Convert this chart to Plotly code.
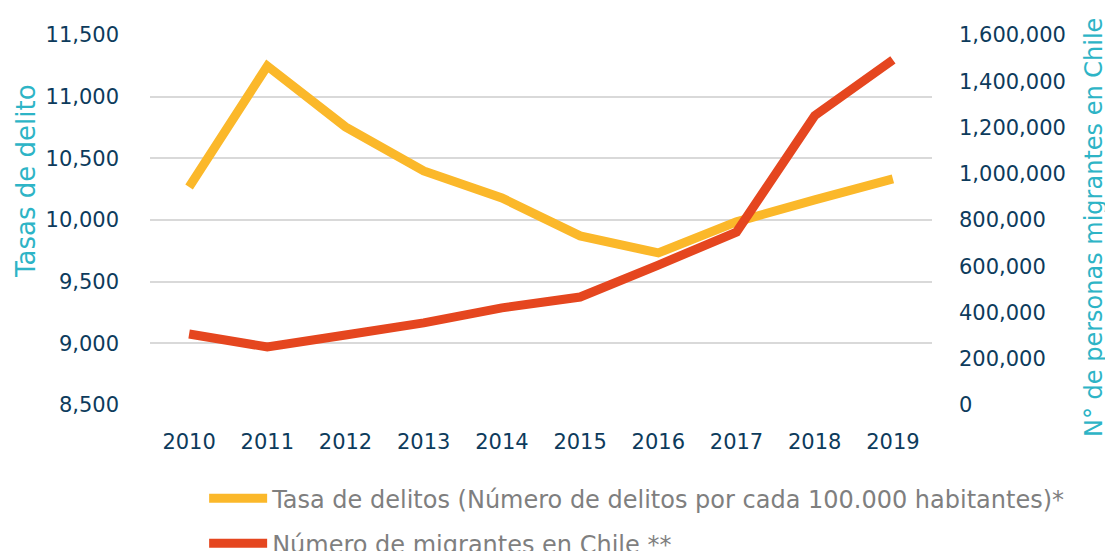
import plotly.graph_objects as go

years = ["2010", "2011", "2012", "2013", "2014", "2015", "2016", "2017", "2018", "2019"]
tasa_delitos = [10268, 11249, 10755, 10398, 10179, 9871, 9733, 9985, 10163, 10333]
migrantes = [307000, 251000, 303000, 355000, 420000, 467000, 605000, 748000, 1251225, 1492522]

left_ticks = [8500, 9000, 9500, 10000, 10500, 11000, 11500]
right_ticks = [0, 200000, 400000, 600000, 800000, 1000000, 1200000, 1400000, 1600000]

YELLOW = "#FBB82A"
RED = "#E5461F"
TICK = "#0D3B5C"
TEAL = "#2DB4C6"
FONT = "DejaVu Sans"

# page has an 8px body margin; figure sized to fill the rest of the window
W, H = 1105, 543
PL, PT, PW, PH = 142, 27, 782, 370  # plot area in figure pixels
OFF = 8  # body margin offset between page pixels and figure pixels

fig = go.Figure()
fig.add_trace(go.Scatter(
    x=years, y=tasa_delitos, mode="lines",
    name="Tasa de delitos (Número de delitos por cada 100.000 habitantes)*",
    legendgroup="a",
    line=dict(color=YELLOW, width=9), yaxis="y"))
fig.add_trace(go.Scatter(
    x=years, y=migrantes, mode="lines",
    name="Número de migrantes en Chile **",
    legendgroup="b",
    line=dict(color=RED, width=9), yaxis="y2"))

fig.update_layout(
    width=W, height=H,
    margin=dict(l=PL, r=W - PL - PW, t=PT, b=H - PT - PH, autoexpand=False),
    paper_bgcolor="white", plot_bgcolor="white",
    font=dict(family=FONT, color=TICK, size=21),
    showlegend=True,
    legend=dict(orientation="v", xref="container", yref="container",
                x=0.1775, xanchor="left", y=0.138, yanchor="top",
                font=dict(size=24, color="#7F7F7F", family=FONT),
                itemwidth=58, traceorder="grouped", tracegroupgap=11,
                bgcolor="rgba(0,0,0,0)"),
    xaxis=dict(type="category", range=[-0.5, 9.5], showgrid=False, showline=False, ticks="",
               tickfont=dict(size=21, color=TICK), ticklabelstandoff=22, automargin=False),
    yaxis=dict(range=[8500, 11500], tickvals=left_ticks, tickformat=",d",
               showgrid=True, gridcolor="#D9D9D9", gridwidth=2, zeroline=False,
               showline=False, ticks="", ticklabelstandoff=30, automargin=False,
               tickfont=dict(size=21, color=TICK)),
    yaxis2=dict(range=[0, 1600000], tickvals=right_ticks, tickformat=",d",
                overlaying="y", side="right", showgrid=False, zeroline=False,
                showline=False, ticks="", ticklabelstandoff=26, automargin=False,
                tickfont=dict(size=21, color=TICK)),
    annotations=[
        dict(text="Tasas de delito", textangle=-90, showarrow=False,
             xref="paper", yref="paper", x=(26 - OFF - PL) / PW, y=(405 - 181) / PH,
             xanchor="center", yanchor="middle",
             font=dict(size=26, color=TEAL, family=FONT)),
        dict(text="N° de personas migrantes en Chile", textangle=-90, showarrow=False,
             xref="paper", yref="paper", x=(1094 - OFF - PL) / PW, y=(405 - 228) / PH,
             xanchor="center", yanchor="middle",
             font=dict(size=24, color=TEAL, family=FONT)),
    ],
)

fig.write_html("out.html")
